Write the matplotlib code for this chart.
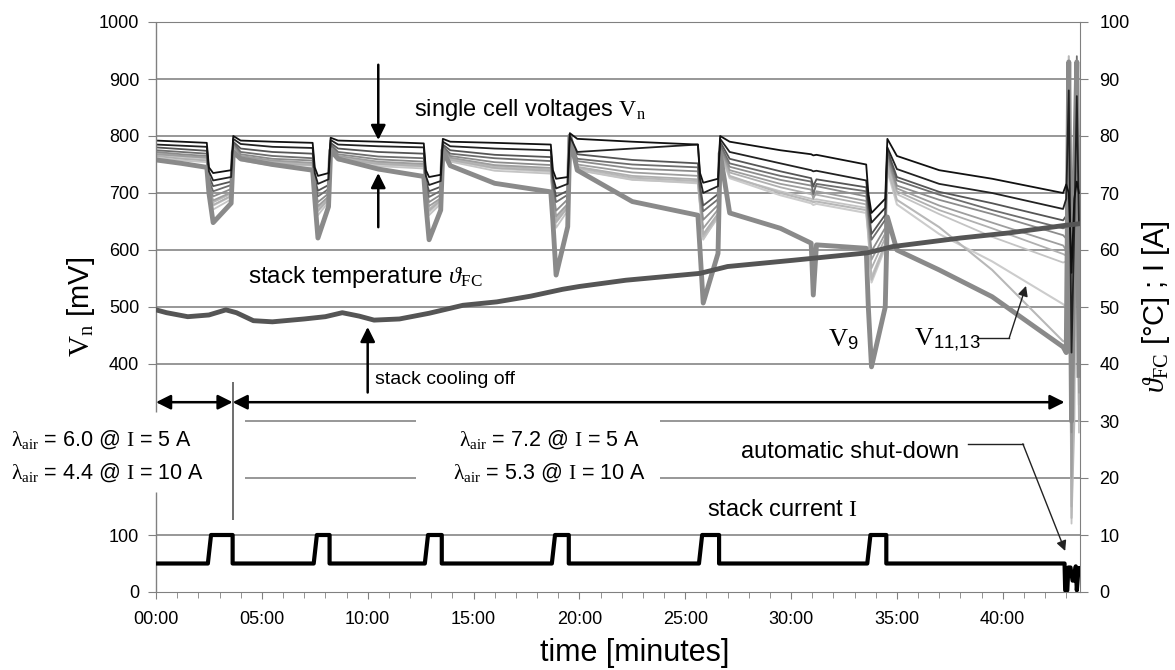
import matplotlib
matplotlib.use('Agg')
import matplotlib.pyplot as plt
from matplotlib.ticker import MultipleLocator

plt.rcParams['font.family'] = ['Liberation Sans', 'DejaVu Sans']
plt.rcParams['mathtext.fontset'] = 'custom'
plt.rcParams['mathtext.rm'] = 'Liberation Serif'
plt.rcParams['mathtext.it'] = 'Liberation Serif:italic'
plt.rcParams['mathtext.sf'] = 'Liberation Sans'

# shared time points (minutes) for the cell voltage traces
t_cell = [0.0, 1.2, 2.4,
          2.5, 2.7, 3.55,
          3.65, 4.0, 5.5, 7.4,
          7.5, 7.65, 8.15,
          8.25, 8.6, 10.5, 12.65,
          12.75, 12.9, 13.45,
          13.55, 13.9, 16.0, 18.65,
          18.75, 18.9, 19.45,
          19.55, 19.9, 22.5, 25.6,
          25.7, 25.85, 26.55,
          26.65, 27.1, 29.5, 30.95, 31.05, 31.2, 33.55,
          33.65, 33.8, 34.45,
          34.55, 35.0, 37.0, 39.5, 42.85,
          43.0, 43.12, 43.25, 43.38, 43.5, 43.6]

# single cell voltages [mV]
v_c1 = [792, 790, 788, 745, 735, 740, 800, 792, 790, 788, 745, 730, 735,
        797, 792, 790, 787, 740, 728, 732, 795, 790, 788, 785, 740, 725, 728,
        805, 795, 790, 785, 735, 718, 725, 800, 790, 775, 768, 766, 767, 750,
        700, 665, 690, 795, 765, 740, 725, 700, 715, 700, 560, 690, 720, 700]
v_c2 = [785, 783, 781, 738, 722, 728, 795, 786, 781, 779, 735, 716, 724,
        793, 785, 782, 780, 730, 714, 721, 790, 782, 778, 775, 728, 708, 716,
        800, 772, 778, 785, 725, 700, 712, 795, 772, 752, 740, 738, 739, 722,
        688, 648, 674, 780, 742, 716, 700, 672, 690, 880, 420, 640, 870, 650]
v_c3 = [780, 777, 774, 730, 712, 720, 790, 778, 772, 769, 725, 704, 714,
        788, 778, 772, 769, 722, 703, 711, 785, 775, 767, 763, 720, 694, 704,
        795, 768, 758, 752, 712, 678, 698, 790, 760, 738, 726, 712, 724, 710,
        678, 628, 662, 775, 728, 702, 682, 652, 660, 600, 350, 700, 900, 500]
v_c4 = [775, 772, 769, 722, 703, 714, 788, 772, 765, 761, 718, 694, 707,
        785, 772, 764, 761, 715, 693, 704, 782, 769, 761, 756, 712, 684, 697,
        792, 760, 750, 745, 705, 668, 689, 785, 752, 730, 720, 698, 716, 703,
        668, 618, 653, 770, 722, 697, 670, 638, 640, 930, 300, 550, 940, 400]
v_c5 = [772, 768, 765, 715, 694, 707, 785, 768, 760, 757, 712, 684, 699,
        782, 768, 759, 755, 708, 684, 697, 780, 765, 754, 749, 705, 669, 689,
        790, 756, 743, 738, 698, 653, 679, 780, 746, 723, 713, 711, 712, 694,
        658, 598, 639, 765, 713, 688, 663, 626, 620, 800, 280, 450, 920, 600]
v_c6 = [768, 765, 762, 710, 687, 701, 782, 765, 757, 753, 708, 677, 694,
        780, 765, 755, 751, 702, 677, 691, 778, 762, 749, 744, 700, 659, 681,
        788, 750, 736, 730, 690, 638, 671, 778, 740, 716, 706, 690, 703, 686,
        648, 583, 629, 760, 708, 678, 648, 608, 600, 750, 200, 500, 880, 350]
v_c7 = [765, 760, 757, 705, 679, 695, 780, 760, 752, 749, 702, 669, 689,
        778, 760, 751, 747, 698, 669, 687, 775, 758, 744, 739, 695, 649, 675,
        785, 746, 730, 724, 685, 628, 664, 775, 736, 710, 698, 696, 697, 680,
        640, 568, 621, 755, 703, 670, 638, 593, 590, 880, 150, 600, 930, 300]
v_c8 = [762, 757, 754, 700, 671, 689, 778, 757, 748, 744, 698, 661, 684,
        775, 757, 747, 743, 692, 661, 681, 772, 755, 739, 734, 690, 639, 669,
        782, 740, 723, 718, 680, 618, 659, 772, 728, 703, 690, 688, 689, 674,
        632, 553, 611, 750, 698, 663, 623, 578, 580, 700, 120, 400, 850, 280]
v_11 = [770, 765, 762, 708, 684, 699, 783, 763, 755, 751, 705, 674, 691,
        780, 762, 753, 749, 700, 671, 689, 776, 760, 747, 741, 695, 654, 679,
        785, 744, 727, 721, 682, 624, 661, 775, 730, 700, 686, 684, 685, 670,
        630, 548, 609, 745, 688, 640, 565, 440, 440, 940, 130, 300, 910, 330]
v_13 = [767, 762, 759, 704, 678, 694, 781, 760, 752, 748, 702, 668, 688,
        778, 760, 750, 746, 696, 666, 685, 774, 757, 743, 737, 692, 648, 675,
        783, 741, 724, 717, 678, 620, 657, 772, 726, 696, 682, 679, 681, 665,
        625, 543, 604, 740, 680, 628, 580, 505, 500, 850, 270, 620, 900, 500]
v_9 = [758, 752, 745, 700, 648, 682, 772, 760, 750, 740, 690, 621, 676,
       775, 760, 742, 729, 680, 618, 670, 775, 748, 717, 702, 650, 556, 641,
       800, 740, 685, 661, 600, 507, 594, 770, 665, 638, 612, 521, 609, 603,
       500, 395, 500, 658, 600, 565, 518, 430, 420, 930, 300, 720, 930, 380]

# stack temperature [degC]
t_temp = [0, 0.5, 1.5, 2.5, 3.3, 3.8, 4.6, 5.5, 7.0, 8.0, 8.8, 9.6, 10.3,
          11.5, 12.9, 14.5, 16.1, 17.7, 19.2, 20.0, 22.2, 25.7, 27.0, 30.1,
          33.6, 34.8, 38.0, 40.3, 42.9, 43.6]
temp = [49.5, 49.0, 48.3, 48.6, 49.5, 49.0, 47.6, 47.4, 47.9, 48.3, 49.0,
        48.4, 47.7, 47.9, 48.9, 50.3, 50.9, 51.9, 53.1, 53.6, 54.7, 55.9,
        57.1, 58.2, 59.5, 60.6, 62.1, 63.0, 64.3, 64.6]

# stack current [A]
t_cur = [0, 2.45, 2.6, 3.62, 3.62, 7.45, 7.6, 8.2, 8.2, 12.7, 12.85, 13.5,
         13.5, 18.7, 18.85, 19.5, 19.5, 25.65, 25.8, 26.6, 26.6, 33.6, 33.75,
         34.5, 34.5, 42.92, 42.95, 43.05, 43.1, 43.2, 43.3, 43.35, 43.45,
         43.5, 43.58, 43.62]
i_cur = [5, 5, 10, 10, 5, 5, 10, 10, 5, 5, 10, 10, 5, 5, 10, 10, 5, 5, 10,
         10, 5, 5, 10, 10, 5, 5, 0.3, 0.3, 4.3, 4.3, 2, 2, 4.5, 0.3, 4.2, 4.2]

grey = '#808080'
fig = plt.figure(figsize=(11.75, 6.7), dpi=100)
ax = fig.add_axes([156 / 1175, 78 / 670, 924 / 1175, 570 / 670])
ax.set_xlim(0, 43.65)
ax.set_ylim(0, 1000)

# grid rows, two of them interrupted by the lambda texts
ax.hlines([100, 400, 500, 600, 700, 800, 900], 0, 43.65, color='#7a7a7a', lw=1.1, zorder=1)
for y in [200, 300]:
    ax.hlines(y, 4.2, 12.3, color='#7a7a7a', lw=1.1, zorder=1)
    ax.hlines(y, 23.8, 43.65, color='#7a7a7a', lw=1.1, zorder=1)

# cell traces
cells = [(v_13, '#cccccc', 1.5), (v_c8, '#c4c4c4', 1.3), (v_11, '#b8b8b8', 1.5),
         (v_c7, '#b0b0b0', 1.3), (v_c6, '#9e9e9e', 1.3), (v_c5, '#8c8c8c', 1.3),
         (v_c4, '#6e6e6e', 1.3), (v_c3, '#555555', 1.3), (v_9, '#8a8a8a', 3.5),
         (v_c2, '#222222', 1.3), (v_c1, '#111111', 1.3)]
for v, c, lw in cells:
    ax.plot(t_cell, v, color=c, lw=lw, zorder=2)

# spines / ticks
ax.spines['left'].set_visible(False)
for s in ['top', 'right', 'bottom']:
    ax.spines[s].set_color(grey)
ax.vlines([0, 0], [0, 315], [175, 1000], color=grey, lw=1, clip_on=False, zorder=2.5)
ax.set_yticks([0, 100, 400, 500, 600, 700, 800, 900, 1000])
ax.set_xticks(range(0, 41, 5))
ax.set_xticklabels(['%02d:00' % m for m in range(0, 41, 5)])
ax.xaxis.set_minor_locator(MultipleLocator(1))
ax.tick_params(axis='both', which='both', direction='out', color=grey, labelsize=13)
ax.tick_params(axis='y', length=6, pad=6)
ax.tick_params(axis='x', which='major', length=5, pad=9)
ax.tick_params(axis='x', which='minor', length=4)

ax2 = ax.twinx()
ax2.set_ylim(0, 100)
ax2.set_yticks(range(0, 101, 10))
for s in ax2.spines.values():
    s.set_visible(False)
ax2.tick_params(axis='y', direction='out', length=6, color=grey, labelsize=13, pad=8)
ax2.plot(t_temp, temp, color='#555555', lw=3.5, zorder=3)
ax2.plot(t_cur, i_cur, color='black', lw=3, zorder=4)

# axis labels
ax.set_ylabel(r'$\mathrm{V_n}$ [mV]', fontsize=21)
ax.yaxis.set_label_coords(-0.064, 0.5)
ax2.set_ylabel(r'$\vartheta_{\mathrm{FC}}$ [°C] ; I [A]', fontsize=21)
ax2.yaxis.set_label_coords(1.065, 0.5)
ax.set_xlabel('time [minutes]', fontsize=22)
ax.xaxis.set_label_coords(0.518, -0.080)

big = dict(arrowstyle='-|>', mutation_scale=22, lw=1.8, color='black', shrinkA=0, shrinkB=0)
dbl = dict(arrowstyle='<|-|>', mutation_scale=22, lw=1.8, color='black', shrinkA=0, shrinkB=0)
small = dict(arrowstyle='-|>', mutation_scale=15, lw=1, color='#222222', shrinkA=0, shrinkB=0)

# annotations
ax.text(12.2, 845, r'single cell voltages $\mathrm{V_n}$', fontsize=17, va='center')
ax.annotate('', xy=(10.5, 793), xytext=(10.5, 925), arrowprops=big)
ax.annotate('', xy=(10.5, 735), xytext=(10.5, 640), arrowprops=big)
ax.text(4.35, 553, r'stack temperature $\vartheta_{\mathrm{FC}}$', fontsize=17.5, va='center')
ax.annotate('', xy=(10.0, 465), xytext=(10.0, 350), arrowprops=big)
ax.text(10.35, 372, 'stack cooling off', fontsize=14, va='center')

ax.annotate('', xy=(0, 333), xytext=(3.62, 333), arrowprops=dbl, annotation_clip=False)
ax.annotate('', xy=(3.62, 333), xytext=(42.92, 333), arrowprops=dbl)
ax.vlines(3.62, 126, 368, color='#555555', lw=1.2, zorder=5)

lam_fs = 15.5
ax.text(-6.85, 268, r'$\mathrm{\lambda_{air}}$ = 6.0 @ $\mathrm{I}$ = 5 A', fontsize=lam_fs, va='center')
ax.text(-6.85, 209, r'$\mathrm{\lambda_{air}}$ = 4.4 @ $\mathrm{I}$ = 10 A', fontsize=lam_fs, va='center')
ax.text(18.6, 268, r'$\mathrm{\lambda_{air}}$ = 7.2 @ $\mathrm{I}$ = 5 A', fontsize=lam_fs, va='center', ha='center')
ax.text(18.6, 209, r'$\mathrm{\lambda_{air}}$ = 5.3 @ $\mathrm{I}$ = 10 A', fontsize=lam_fs, va='center', ha='center')

ax.text(32.8, 246, 'automatic shut-down', fontsize=17, va='center', ha='center')
ax.plot([38.35, 40.95], [260, 260], color='#222222', lw=1)
ax.annotate('', xy=(42.95, 72), xytext=(40.95, 260), arrowprops=small)
ax.text(29.6, 144, r'stack current $\mathrm{I}$', fontsize=17, va='center', ha='center')

ax.text(32.45, 442, r'$\mathrm{V}_{\mathsf{9}}$', fontsize=19, va='center', ha='center')
ax.text(37.4, 442, r'$\mathrm{V}_{\mathsf{11{,}13}}$', fontsize=19, va='center', ha='center')
ax.plot([38.8, 40.3], [445, 445], color='#222222', lw=1)
ax.annotate('', xy=(41.1, 537), xytext=(40.3, 445), arrowprops=small)

fig.savefig('out.png', dpi=100)
